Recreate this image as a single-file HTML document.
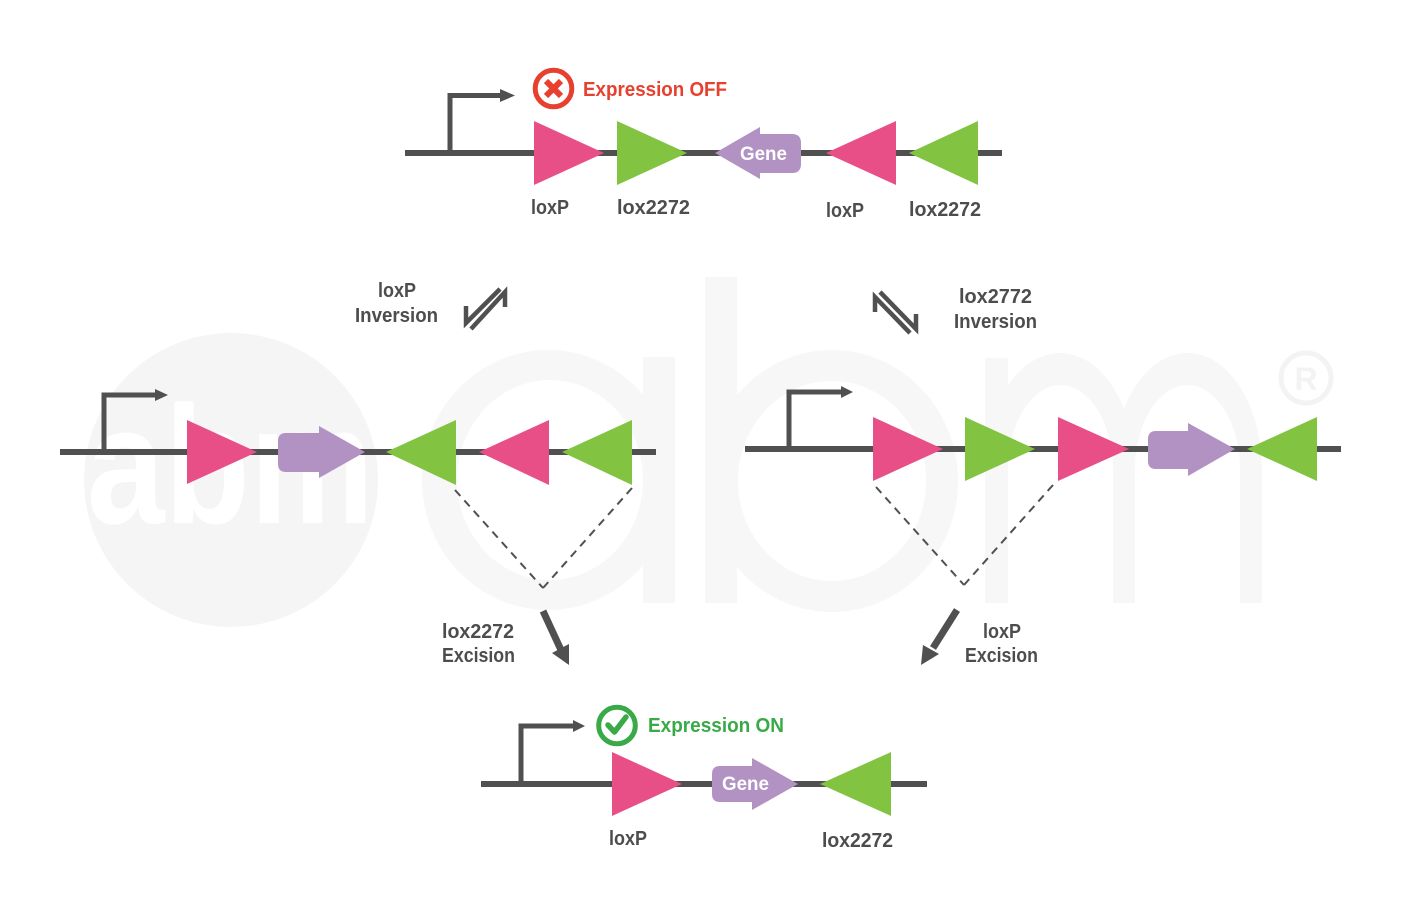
<!DOCTYPE html>
<html>
<head>
<meta charset="utf-8">
<style>
  html,body{margin:0;padding:0;background:#fff;}
  svg{display:block;}
  text{font-family:"Liberation Sans", Arial, sans-serif;font-weight:bold;}
</style>
</head>
<body>
<svg width="1415" height="922" viewBox="0 0 1415 922" xmlns="http://www.w3.org/2000/svg">
  <rect width="1415" height="922" fill="#ffffff"/>

  <!-- Watermark -->
  <g fill="#f7f7f7">
    <circle cx="231" cy="480" r="147" fill="#f5f5f5"/>
    <path fill-rule="evenodd" d="M422,480 a126,130 0 1,0 252,0 a126,130 0 1,0 -252,0 Z M457,480 a93,100 0 1,0 186,0 a93,100 0 1,0 -186,0 Z"/>
    <rect x="643" y="357" width="32" height="246"/>
    <rect x="705" y="277" width="32" height="326"/>
    <path fill-rule="evenodd" d="M706,481 a126,131 0 1,0 252,0 a126,131 0 1,0 -252,0 Z M738,481 a94,100 0 1,0 188,0 a94,100 0 1,0 -188,0 Z"/>
    <rect x="985" y="358" width="23" height="245"/>
    <path d="M985,470 A75,117 0 0 1 1135,470 L1135,603 L1113,603 L1113,470 A52.5,85 0 0 0 1008,470 Z"/>
    <path d="M1113,470 A74.5,117 0 0 1 1262,470 L1262,603 L1240,603 L1240,470 A52.5,85 0 0 0 1135,470 Z"/>
    <circle cx="1306" cy="378" r="25" fill="none" stroke="#f3f3f3" stroke-width="5"/>
    <text x="1306" y="390" font-size="32" text-anchor="middle" fill="#f3f3f3">R</text>
  </g>
  <text x="87" y="523" font-size="168" fill="#ffffff" textLength="287" lengthAdjust="spacingAndGlyphs">abm</text>

  <!-- ===== TOP ROW ===== -->
  <line x1="405" y1="153" x2="1002" y2="153" stroke="#505050" stroke-width="6"/>
  <polyline points="450,153 450,95.5 502,95.5" fill="none" stroke="#505050" stroke-width="5"/>
  <polygon points="500,89 515,95.5 500,102" fill="#505050"/>
  <polygon points="534,121 534,185 604,153" fill="#e94f87"/>
  <polygon points="617,121 617,185 687,153" fill="#82c341"/>
  <path d="M715,153 L760,127 L760,134 L792,134 Q801,134 801,143 L801,164 Q801,173 792,173 L760,173 L760,179 Z" fill="#b292c3"/>
  <text x="740" y="160" font-size="19" fill="#ffffff" textLength="47" lengthAdjust="spacingAndGlyphs">Gene</text>
  <polygon points="826,153 896,121 896,185" fill="#e94f87"/>
  <polygon points="909,153 978,121 978,185" fill="#82c341"/>

  <circle cx="553.5" cy="88.5" r="18.3" fill="none" stroke="#e8402f" stroke-width="5"/>
  <line x1="546" y1="81" x2="561" y2="96" stroke="#e8402f" stroke-width="6"/>
  <line x1="561" y1="81" x2="546" y2="96" stroke="#e8402f" stroke-width="6"/>
  <text x="583" y="96" font-size="20" fill="#e8402f" textLength="144" lengthAdjust="spacingAndGlyphs">Expression OFF</text>

  <g fill="#4d4d4d" font-size="20">
    <text x="531" y="214" textLength="38" lengthAdjust="spacingAndGlyphs">loxP</text>
    <text x="617" y="214" textLength="73" lengthAdjust="spacingAndGlyphs">lox2272</text>
    <text x="826" y="217" textLength="38" lengthAdjust="spacingAndGlyphs">loxP</text>
    <text x="909" y="216" textLength="72" lengthAdjust="spacingAndGlyphs">lox2272</text>

    <text x="378" y="297" textLength="38" lengthAdjust="spacingAndGlyphs">loxP</text>
    <text x="355" y="322" textLength="83" lengthAdjust="spacingAndGlyphs">Inversion</text>
    <text x="959" y="303" textLength="73" lengthAdjust="spacingAndGlyphs">lox2772</text>
    <text x="954" y="328" textLength="83" lengthAdjust="spacingAndGlyphs">Inversion</text>

    <text x="442" y="638" textLength="72" lengthAdjust="spacingAndGlyphs">lox2272</text>
    <text x="442" y="662" textLength="73" lengthAdjust="spacingAndGlyphs">Excision</text>
    <text x="983" y="638" textLength="38" lengthAdjust="spacingAndGlyphs">loxP</text>
    <text x="965" y="662" textLength="73" lengthAdjust="spacingAndGlyphs">Excision</text>

    <text x="609" y="845" textLength="38" lengthAdjust="spacingAndGlyphs">loxP</text>
    <text x="822" y="847" textLength="71" lengthAdjust="spacingAndGlyphs">lox2272</text>
  </g>

  <!-- Inversion harpoons -->
  <g fill="none" stroke="#505050" stroke-width="4.5" stroke-linejoin="miter" stroke-linecap="butt">
    <polyline points="466,306 466,323 500,289"/>
    <polyline points="471,329 505,292 505,307"/>
    <polyline points="875,312 875,297 910,333"/>
    <polyline points="880,292 916,329 916,314"/>
  </g>

  <!-- ===== MIDDLE LEFT ===== -->
  <line x1="60" y1="452" x2="656" y2="452" stroke="#505050" stroke-width="6"/>
  <polyline points="104,452 104,395 157,395" fill="none" stroke="#505050" stroke-width="5"/>
  <polygon points="155,389 168,395 155,401" fill="#505050"/>
  <polygon points="187,420 187,484 257,452" fill="#e94f87"/>
  <path d="M365,452 L319,426 L319,433 L286,433 Q278,433 278,441 L278,464 Q278,472 286,472 L319,472 L319,478 Z" fill="#b292c3"/>
  <polygon points="386,452 456,420 456,485" fill="#82c341"/>
  <polygon points="479,452 549,420 549,485" fill="#e94f87"/>
  <polygon points="562,452 632,420 632,485" fill="#82c341"/>
  <g stroke="#505050" stroke-width="2" stroke-dasharray="8,6" fill="none">
    <line x1="455" y1="490" x2="543" y2="588"/>
    <line x1="632" y1="488" x2="543" y2="588"/>
  </g>
  <line x1="543" y1="611" x2="561" y2="650" stroke="#505050" stroke-width="7"/>
  <polygon points="552,653 569,644 569,665" fill="#505050"/>

  <!-- ===== MIDDLE RIGHT ===== -->
  <line x1="745" y1="449" x2="1341" y2="449" stroke="#505050" stroke-width="6"/>
  <polyline points="789,449 789,392 843,392" fill="none" stroke="#505050" stroke-width="5"/>
  <polygon points="841,386 853,392 841,398" fill="#505050"/>
  <polygon points="873,417 873,481 943,449" fill="#e94f87"/>
  <polygon points="965,417 965,481 1035,449" fill="#82c341"/>
  <polygon points="1058,417 1058,481 1129,449" fill="#e94f87"/>
  <path d="M1235,449 L1188,423 L1188,431 L1156,431 Q1148,431 1148,439 L1148,461 Q1148,469 1156,469 L1188,469 L1188,476 Z" fill="#b292c3"/>
  <polygon points="1247,449 1317,417 1317,481" fill="#82c341"/>
  <g stroke="#505050" stroke-width="2" stroke-dasharray="8,6" fill="none">
    <line x1="876" y1="487" x2="964" y2="585"/>
    <line x1="1053" y1="485" x2="964" y2="585"/>
  </g>
  <line x1="957" y1="610" x2="933" y2="648" stroke="#505050" stroke-width="7"/>
  <polygon points="939,654 923,645 921,665" fill="#505050"/>

  <!-- ===== BOTTOM ROW ===== -->
  <line x1="481" y1="784" x2="927" y2="784" stroke="#505050" stroke-width="6"/>
  <polyline points="521,784 521,726 575,726" fill="none" stroke="#505050" stroke-width="5"/>
  <polygon points="573,720 585,726 573,732" fill="#505050"/>
  <polygon points="612,752 612,816 682,784" fill="#e94f87"/>
  <path d="M798,784 L752,758 L752,766 L720,766 Q712,766 712,774 L712,794 Q712,802 720,802 L752,802 L752,810 Z" fill="#b292c3"/>
  <text x="722" y="790" font-size="19" fill="#ffffff" textLength="47" lengthAdjust="spacingAndGlyphs">Gene</text>
  <polygon points="820,784 891,752 891,816" fill="#82c341"/>

  <circle cx="617" cy="725.5" r="18.3" fill="none" stroke="#3aaa48" stroke-width="5"/>
  <polyline points="608,725 614.5,732 626,717" fill="none" stroke="#3aaa48" stroke-width="5.5" stroke-linecap="round" stroke-linejoin="round"/>
  <text x="648" y="732" font-size="20" fill="#3aaa48" textLength="136" lengthAdjust="spacingAndGlyphs">Expression ON</text>
</svg>
</body>
</html>
